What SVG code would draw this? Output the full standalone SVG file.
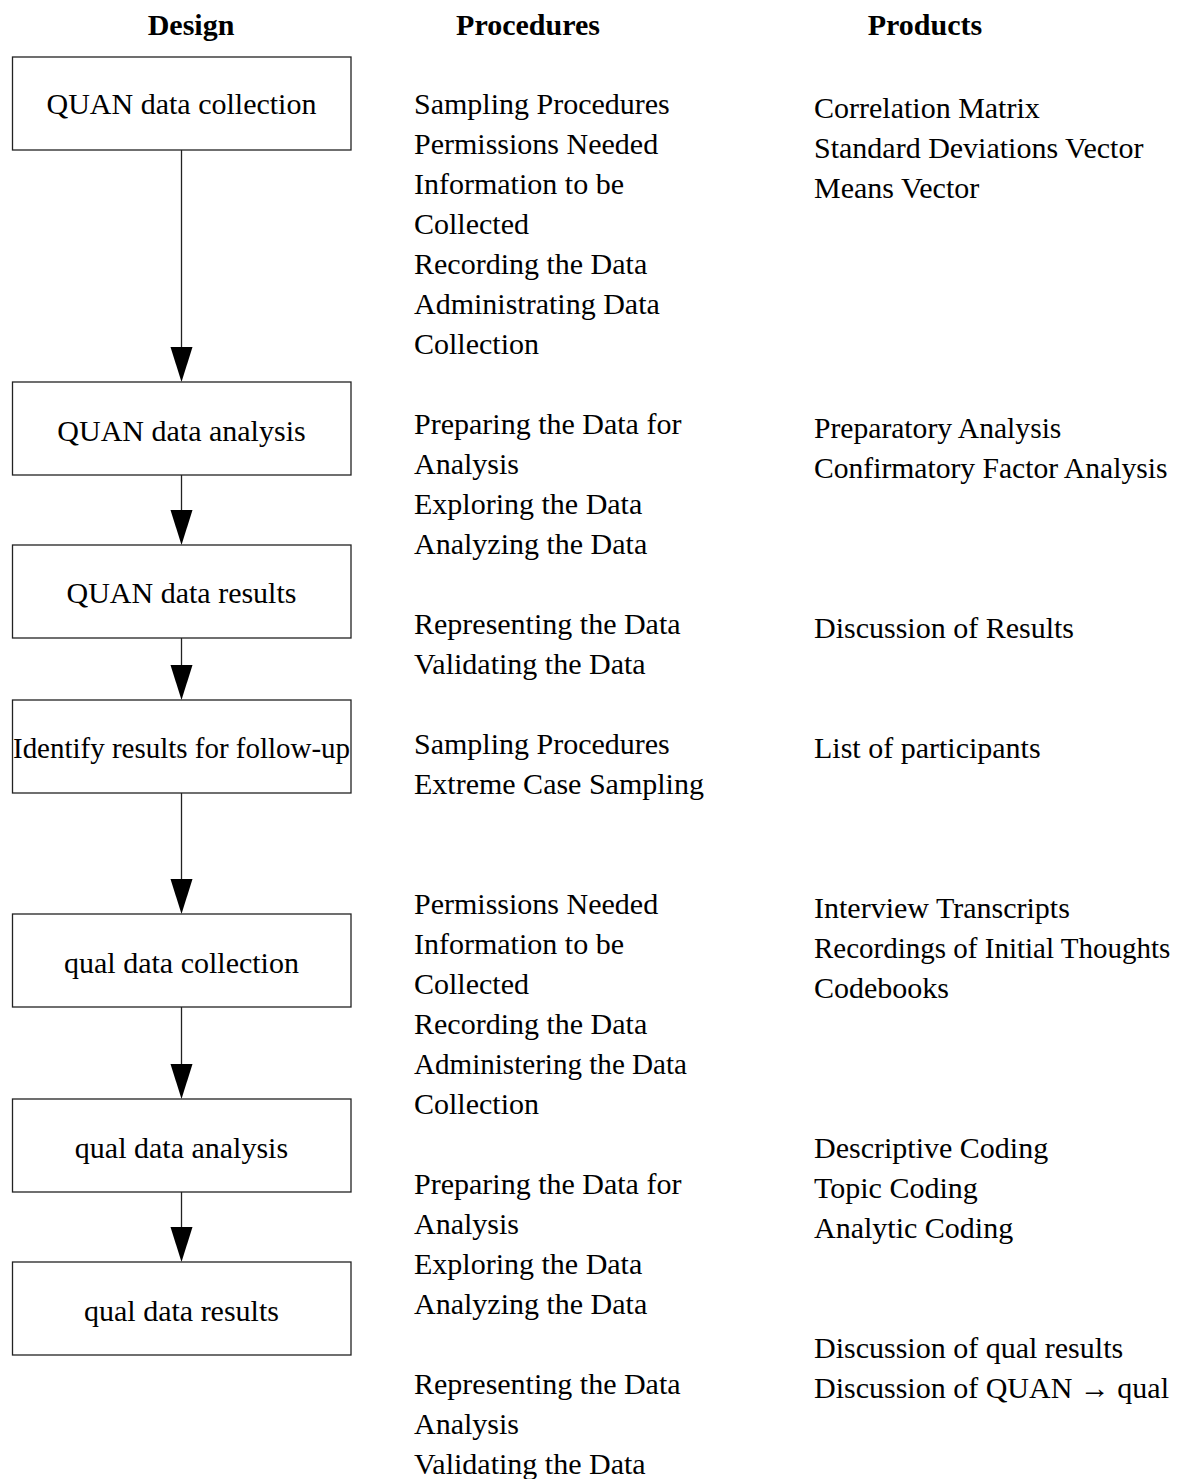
<svg xmlns="http://www.w3.org/2000/svg" width="1178" height="1479" viewBox="0 0 1178 1479">
  <style>
    text { font-family: "Liberation Serif", "Times New Roman", serif; font-size: 30px; fill: #000; }
    .hdr { font-weight: bold; text-anchor: middle; }
    .lbl { text-anchor: middle; }
    .box { fill: #fff; stroke: #222; stroke-width: 1.3; }
    .edge { stroke: #222; stroke-width: 1.3; fill: none; }
    .head { fill: #000; stroke: none; }
  </style>
  <rect width="1178" height="1479" fill="#fff"/>

  <!-- column headings -->
  <g id="headings">
    <text class="hdr" x="191" y="35">Design</text>
    <text class="hdr" x="528" y="35">Procedures</text>
    <text class="hdr" x="925" y="35">Products</text>
  </g>

  <!-- connectors -->
  <g id="connectors">
    <line class="edge" x1="181.5" y1="150" x2="181.5" y2="350"/>
    <polygon class="head" points="170.5,347 192.5,347 181.5,382"/>
    <line class="edge" x1="181.5" y1="475" x2="181.5" y2="513"/>
    <polygon class="head" points="170.5,510 192.5,510 181.5,545"/>
    <line class="edge" x1="181.5" y1="638" x2="181.5" y2="668"/>
    <polygon class="head" points="170.5,665 192.5,665 181.5,700"/>
    <line class="edge" x1="181.5" y1="793" x2="181.5" y2="882"/>
    <polygon class="head" points="170.5,879 192.5,879 181.5,914"/>
    <line class="edge" x1="181.5" y1="1007" x2="181.5" y2="1067"/>
    <polygon class="head" points="170.5,1064 192.5,1064 181.5,1099"/>
    <line class="edge" x1="181.5" y1="1192" x2="181.5" y2="1230"/>
    <polygon class="head" points="170.5,1227 192.5,1227 181.5,1262"/>
  </g>

  <!-- design steps -->
  <g id="quan-collection">
    <rect class="box" x="12.5" y="57" width="338.5" height="93"/>
    <text class="lbl" x="181.5" y="114">QUAN data collection</text>
  </g>
  <g id="quan-analysis">
    <rect class="box" x="12.5" y="382" width="338.5" height="93"/>
    <text class="lbl" x="181.5" y="441">QUAN data analysis</text>
  </g>
  <g id="quan-results">
    <rect class="box" x="12.5" y="545" width="338.5" height="93"/>
    <text class="lbl" x="181.5" y="603">QUAN data results</text>
  </g>
  <g id="identify-followup">
    <rect class="box" x="12.5" y="700" width="338.5" height="93"/>
    <text class="lbl" x="181.5" y="758" textLength="337" lengthAdjust="spacingAndGlyphs">Identify results for follow-up</text>
  </g>
  <g id="qual-collection">
    <rect class="box" x="12.5" y="914" width="338.5" height="93"/>
    <text class="lbl" x="181.5" y="973">qual data collection</text>
  </g>
  <g id="qual-analysis">
    <rect class="box" x="12.5" y="1099" width="338.5" height="93"/>
    <text class="lbl" x="181.5" y="1158">qual data analysis</text>
  </g>
  <g id="qual-results">
    <rect class="box" x="12.5" y="1262" width="338.5" height="93"/>
    <text class="lbl" x="181.5" y="1321">qual data results</text>
  </g>

  <!-- procedures column -->
  <g id="procedures">
    <text x="414" y="114">Sampling Procedures</text>
    <text x="414" y="154">Permissions Needed</text>
    <text x="414" y="194">Information to be</text>
    <text x="414" y="234">Collected</text>
    <text x="414" y="274">Recording the Data</text>
    <text x="414" y="314">Administrating Data</text>
    <text x="414" y="354">Collection</text>

    <text x="414" y="434">Preparing the Data for</text>
    <text x="414" y="474">Analysis</text>
    <text x="414" y="514">Exploring the Data</text>
    <text x="414" y="554">Analyzing the Data</text>

    <text x="414" y="634">Representing the Data</text>
    <text x="414" y="674">Validating the Data</text>

    <text x="414" y="754">Sampling Procedures</text>
    <text x="414" y="794">Extreme Case Sampling</text>

    <text x="414" y="914">Permissions Needed</text>
    <text x="414" y="954">Information to be</text>
    <text x="414" y="994">Collected</text>
    <text x="414" y="1034">Recording the Data</text>
    <text x="414" y="1074" textLength="273" lengthAdjust="spacingAndGlyphs">Administering the Data</text>
    <text x="414" y="1114">Collection</text>

    <text x="414" y="1194">Preparing the Data for</text>
    <text x="414" y="1234">Analysis</text>
    <text x="414" y="1274">Exploring the Data</text>
    <text x="414" y="1314">Analyzing the Data</text>

    <text x="414" y="1394">Representing the Data</text>
    <text x="414" y="1434">Analysis</text>
    <text x="414" y="1474">Validating the Data</text>
  </g>

  <!-- products column -->
  <g id="products">
    <text x="814" y="118">Correlation Matrix</text>
    <text x="814" y="158">Standard Deviations Vector</text>
    <text x="814" y="198">Means Vector</text>

    <text x="814" y="438" style="font-size:29.6px">Preparatory Analysis</text>
    <text x="814" y="478" style="font-size:29.6px">Confirmatory Factor Analysis</text>

    <text x="814" y="638">Discussion of Results</text>

    <text x="814" y="758">List of participants</text>

    <text x="814" y="918">Interview Transcripts</text>
    <text x="814" y="958" style="font-size:29px">Recordings of Initial Thoughts</text>
    <text x="814" y="998">Codebooks</text>

    <text x="814" y="1158">Descriptive Coding</text>
    <text x="814" y="1198">Topic Coding</text>
    <text x="814" y="1238">Analytic Coding</text>

    <text x="814" y="1358">Discussion of qual results</text>
    <text x="814" y="1398">Discussion of QUAN → qual</text>
  </g>
</svg>
